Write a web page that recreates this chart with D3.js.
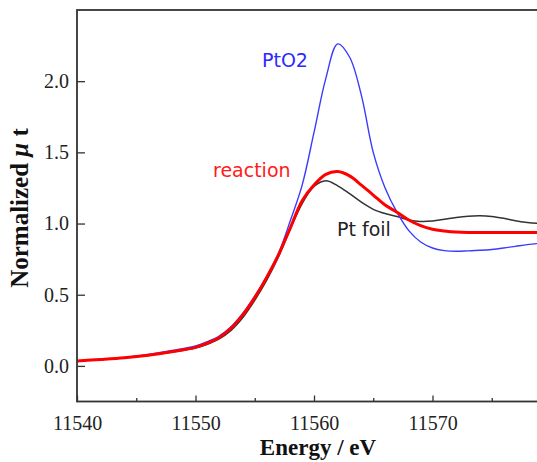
<!DOCTYPE html>
<html>
<head>
<meta charset="utf-8">
<script src="https://cdn.jsdelivr.net/npm/d3@7"></script>
<style>
  html, body { margin: 0; padding: 0; background: #fff; }
  svg { display: block; }
</style>
</head>
<body>
<svg id="chart" width="537" height="462"></svg>
<script>
// ---- data ----
const energy = [11540, 11542, 11544, 11546, 11548, 11550, 11551, 11552, 11553, 11554, 11555, 11556, 11557, 11558, 11559, 11560, 11561, 11562, 11563, 11564, 11565, 11566, 11567, 11568, 11569, 11570, 11571, 11572, 11573, 11574, 11575, 11576, 11577, 11578, 11579, 11580];
const ptFoil   = [0.035, 0.045, 0.057, 0.073, 0.097, 0.125, 0.152, 0.19, 0.25, 0.34, 0.46, 0.60, 0.765, 0.96, 1.14, 1.26, 1.30, 1.265, 1.21, 1.15, 1.10, 1.07, 1.05, 1.025, 1.015, 1.018, 1.03, 1.043, 1.052, 1.055, 1.05, 1.037, 1.02, 1.008, 1.0, 0.995];
const ptO2     = [0.035, 0.045, 0.058, 0.08, 0.108, 0.14, 0.17, 0.21, 0.275, 0.37, 0.49, 0.63, 0.79, 1.02, 1.27, 1.64, 2.02, 2.262, 2.17, 1.90, 1.50, 1.25, 1.08, 0.95, 0.87, 0.828, 0.81, 0.805, 0.808, 0.812, 0.818, 0.828, 0.84, 0.852, 0.86, 0.865];
const reaction = [0.035, 0.045, 0.057, 0.075, 0.10, 0.13, 0.16, 0.20, 0.265, 0.36, 0.48, 0.62, 0.78, 0.97, 1.16, 1.27, 1.345, 1.365, 1.335, 1.27, 1.20, 1.13, 1.08, 1.025, 0.985, 0.96, 0.948, 0.94, 0.937, 0.937, 0.937, 0.937, 0.937, 0.937, 0.937, 0.937];
const xTicks = [11540, 11550, 11560, 11570];
const xMinorTicks = [11545, 11555, 11565, 11575];
const yTicks = [0.0, 0.5, 1.0, 1.5, 2.0];
const seriesNames = ["Pt foil", "PtO2", "reaction"];

// ---- layout ----
const svg = d3.select("#chart");
const mLeft = 77, mTop = 10, mBottom = 401.5, mRight = 551;
const x = d3.scaleLinear().domain([11540, 11580]).range([mLeft, mRight]);
const y = d3.scaleLinear().domain([-0.25, 2.5]).range([mBottom, mTop]);

svg.append("defs").append("clipPath").attr("id", "clip")
  .append("rect").attr("x", mLeft).attr("y", mTop).attr("width", mRight - mLeft).attr("height", mBottom - mTop);

const series = [
  { name: seriesNames[0], values: ptFoil,   color: "#333333", width: 1.5 },
  { name: seriesNames[1], values: ptO2,     color: "#3b3bff", width: 1.4 },
  { name: seriesNames[2], values: reaction, color: "#ff0000", width: 3 }
];

const line = d3.line()
  .x((d, i) => x(energy[i]))
  .y(d => y(d))
  .curve(d3.curveCatmullRom.alpha(0.5));

const g = svg.append("g").attr("clip-path", "url(#clip)");
series.forEach(s => {
  g.append("path")
    .attr("d", line(s.values))
    .attr("fill", "none")
    .attr("stroke", s.color)
    .attr("stroke-width", s.width)
    .attr("stroke-linejoin", "round");
});

// ---- axes ----
const axisColor = "#333";
const xAxis = d3.axisBottom(x).tickValues(xTicks).tickSize(-6).tickPadding(14).tickFormat(d3.format("d"));
const xg = svg.append("g").attr("transform", `translate(0,${mBottom})`).call(xAxis);
xg.select(".domain").remove();
xg.selectAll(".tick line").attr("stroke", axisColor).attr("stroke-width", 1.3);
xg.selectAll(".tick text").attr("font-family", "'Liberation Serif', 'Times New Roman', serif")
  .attr("font-size", 20).attr("fill", "#222");

const xMinor = d3.axisBottom(x).tickValues(xMinorTicks).tickSize(-3.5).tickFormat("");
const xmg = svg.append("g").attr("transform", `translate(0,${mBottom})`).call(xMinor);
xmg.select(".domain").remove();
xmg.selectAll(".tick line").attr("stroke", axisColor).attr("stroke-width", 1.3);

const yAxis = d3.axisLeft(y).tickValues(yTicks).tickSize(-8).tickPadding(8).tickFormat(d3.format(".1f"));
const yg = svg.append("g").attr("transform", `translate(${mLeft},0)`).call(yAxis);
yg.select(".domain").remove();
yg.selectAll(".tick line").attr("stroke", axisColor).attr("stroke-width", 1.3);
yg.selectAll(".tick text").attr("font-family", "'Liberation Serif', 'Times New Roman', serif")
  .attr("font-size", 20).attr("fill", "#222");

// frame
svg.append("rect").attr("x", mLeft).attr("y", mTop).attr("width", mRight - mLeft).attr("height", mBottom - mTop)
  .attr("fill", "none").attr("stroke", axisColor).attr("stroke-width", 1.8);

// ---- axis titles ----
svg.append("text")
  .attr("x", 318).attr("y", 455)
  .attr("text-anchor", "middle")
  .attr("font-family", "'Liberation Serif', 'Times New Roman', serif")
  .attr("font-weight", "bold").attr("font-size", 23).attr("fill", "#111")
  .text("Energy / eV");

const yt = svg.append("text")
  .attr("transform", "translate(28,208) rotate(-90)")
  .attr("text-anchor", "middle")
  .attr("font-family", "'Liberation Serif', 'Times New Roman', serif")
  .attr("font-weight", "bold").attr("font-size", 25).attr("fill", "#111");
yt.append("tspan").text("Normalized ");
yt.append("tspan").attr("font-style", "italic").text("μ");
yt.append("tspan").text(" t");

// ---- series labels ----
const labelFont = "'DejaVu Sans', Verdana, sans-serif";
svg.append("text").attr("x", 262).attr("y", 67).attr("font-family", labelFont).attr("font-size", 19)
  .attr("fill", "#2a2aff").text(seriesNames[1]);
svg.append("text").attr("x", 213).attr("y", 177).attr("font-family", labelFont).attr("font-size", 19)
  .attr("fill", "#ff1a1a").text(seriesNames[2]);
svg.append("text").attr("x", 337).attr("y", 236).attr("font-family", labelFont).attr("font-size", 19)
  .attr("fill", "#222").text(seriesNames[0]);
</script>
</body>
</html>
